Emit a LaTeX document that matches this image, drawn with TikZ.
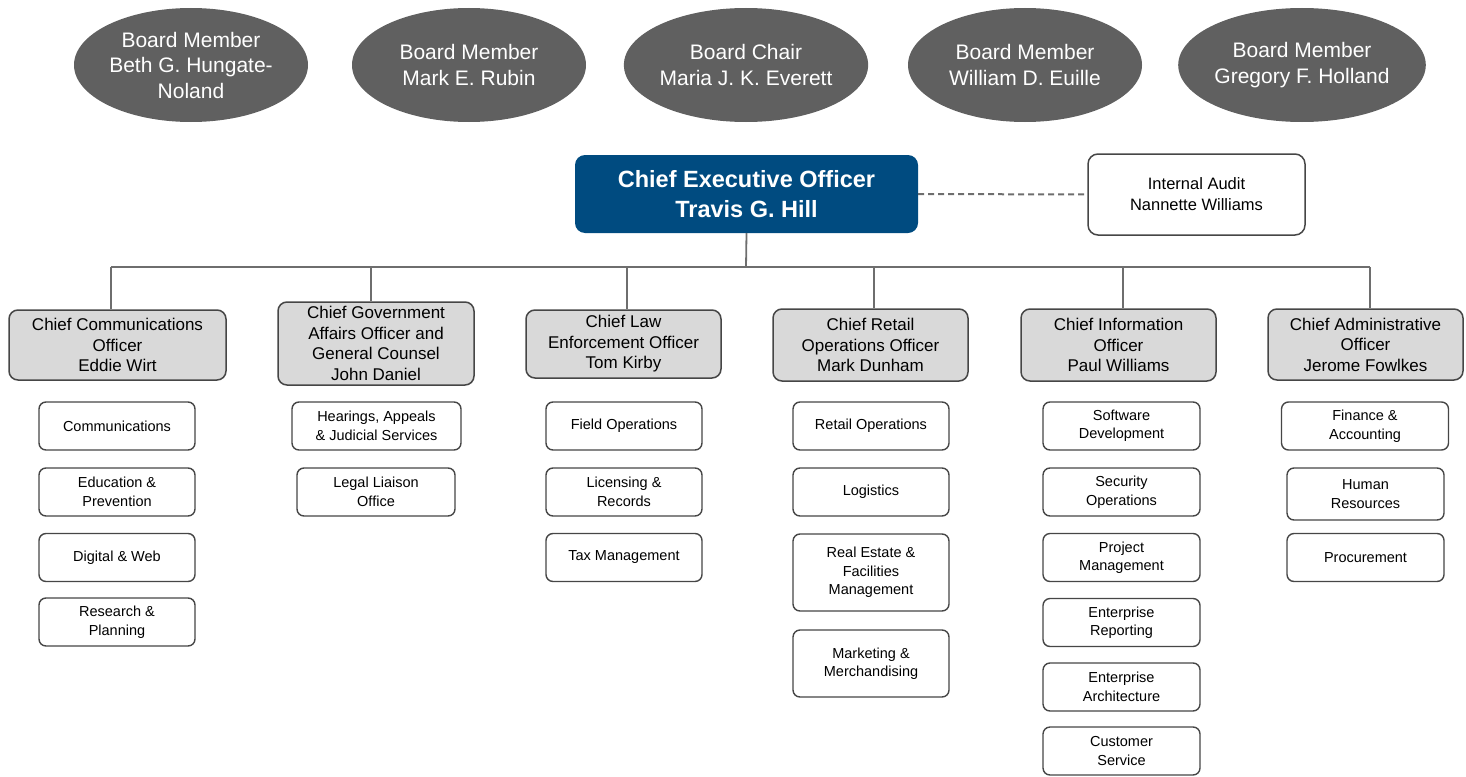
\documentclass[tikz,border=0pt]{standalone}
\usepackage{fontspec}
\setmainfont{Liberation Sans}
\usetikzlibrary{shapes.geometric}
\definecolor{boardgray}{RGB}{96,96,96}
\definecolor{ceoblue}{RGB}{0,75,128}
\definecolor{chiefgray}{RGB}{217,217,217}
\definecolor{linegray}{RGB}{110,110,110}
\definecolor{bordergray}{RGB}{70,70,70}
\begin{document}
\begin{tikzpicture}[x=1pt,y=-1pt,
  board/.style={ellipse, fill=boardgray, text=white, minimum width=234pt, minimum height=114pt, inner sep=0pt, align=center, font=\fontsize{21}{25.5}\selectfont},
  ceo/.style={rectangle, rounded corners=10pt, fill=ceoblue, text=white, minimum width=343pt, minimum height=78pt, inner sep=0pt, align=center, font=\bfseries\fontsize{23.5}{30}\selectfont},
  audit/.style={rectangle, rounded corners=10pt, draw=bordergray, line width=1.5pt, fill=white, minimum width=217pt, minimum height=81pt, inner sep=0pt, align=center, font=\fontsize{16.5}{21}\selectfont},
  chief/.style={rectangle, rounded corners=9pt, draw=bordergray, line width=1.5pt, fill=chiefgray, minimum width=195pt, inner sep=0pt, align=center, font=\fontsize{17}{20.5}\selectfont},
  dept/.style={rectangle, rounded corners=7pt, draw=bordergray, line width=1.4pt, fill=white, minimum width=156pt, minimum height=48pt, inner sep=0pt, align=center, font=\fontsize{14.5}{18.5}\selectfont},
  conn/.style={draw=linegray, line width=1.8pt}
]
\useasboundingbox (0,0) rectangle (1466,776);

% Board
\node[board] (b1) at (191,65) {Board Member\\Beth G. Hungate-\\Noland};
\node[board] (b2) at (469,65) {Board Member\\Mark E. Rubin};
\node[board] (b3) at (746,65) {Board Chair\\Maria J. K. Everett};
\node[board] (b4) at (1025,65) {Board Member\\William D. Euille};
\node[board] (b5) at (1302,65) {Board Member\\Gregory F. Holland};

% CEO and audit
\node[ceo] (ceo) at (746.5,194) {Chief Executive Officer\\Travis G. Hill};
\node[audit] (audit) at (1196.5,194.5) {Internal Audit\\Nannette Williams};
\draw[conn, dash pattern=on 6pt off 4pt, line width=2pt] (ceo.east) -- (audit.west);

% Chiefs
\node[chief, minimum width=217pt, minimum height=70pt] (c1) at (117.5,345) {Chief Communications\\Officer\\Eddie Wirt};
\node[chief, minimum width=196pt, minimum height=83pt] (c2) at (376,343.5) {Chief Government\\Affairs Officer and\\General Counsel\\John Daniel};
\node[chief, minimum height=68pt] (c3) at (623.5,344) {Chief Law\\Enforcement Officer\\Tom Kirby};
\node[chief, minimum height=72pt] (c4) at (870.5,345) {Chief Retail\\Operations Officer\\Mark Dunham};
\node[chief, minimum height=72pt] (c5) at (1118.5,345) {Chief Information\\Officer\\Paul Williams};
\node[chief, minimum height=71pt] (c6) at (1365.5,344.5) {Chief Administrative\\Officer\\Jerome Fowlkes};

% Bus
\coordinate (busc) at (746,267);
\coordinate (bus1) at (111,267);
\coordinate (bus2) at (371,267);
\coordinate (bus3) at (627,267);
\coordinate (bus4) at (874,267);
\coordinate (bus5) at (1123,267);
\coordinate (bus6) at (1370,267);
\draw[conn] (ceo.south) -- (busc);
\draw[conn] (bus1) -- (bus6);
\foreach \i in {1,...,6}{
  \draw[conn] (bus\i) -- (bus\i |- c\i.north);
}

% Departments column 1
\node[dept] (d11) at (117,426) {Communications};
\node[dept] (d12) at (117,492) {Education \&\\Prevention};
\node[dept] (d13) at (117,557.5) {Digital \& Web};
\node[dept] (d14) at (117,622) {Research \&\\Planning};
% column 2
\node[dept, minimum width=169pt] (d21) at (376.5,426) {Hearings, Appeals\\\& Judicial Services};
\node[dept, minimum width=158pt] (d22) at (376,492) {Legal Liaison\\Office};
% column 3
\node[dept] (d31) at (624,426) {Field Operations};
\node[dept] (d32) at (624,492) {Licensing \&\\Records};
\node[dept] (d33) at (624,557.5) {Tax Management};
% column 4
\node[dept] (d41) at (871,426) {Retail Operations};
\node[dept] (d42) at (871,492) {Logistics};
\node[dept, minimum height=77pt] (d43) at (871,572.5) {Real Estate \&\\Facilities\\Management};
\node[dept, minimum height=67pt] (d44) at (871,663.5) {Marketing \&\\Merchandising};
% column 5
\node[dept, minimum width=157pt] (d51) at (1121.5,426) {Software\\Development};
\node[dept, minimum width=157pt] (d52) at (1121.5,492) {Security\\Operations};
\node[dept, minimum width=157pt] (d53) at (1121.5,557.5) {Project\\Management};
\node[dept, minimum width=157pt] (d54) at (1121.5,622.5) {Enterprise\\Reporting};
\node[dept, minimum width=157pt] (d55) at (1121.5,687) {Enterprise\\Architecture};
\node[dept, minimum width=157pt] (d56) at (1121.5,751) {Customer\\Service};
% column 6
\node[dept, minimum width=167pt] (d61) at (1365,426) {Finance \&\\Accounting};
\node[dept, minimum width=157pt, minimum height=52pt] (d62) at (1365.5,494) {Human\\Resources};
\node[dept, minimum width=157pt] (d63) at (1365.5,557.5) {Procurement};
\end{tikzpicture}
\end{document}
